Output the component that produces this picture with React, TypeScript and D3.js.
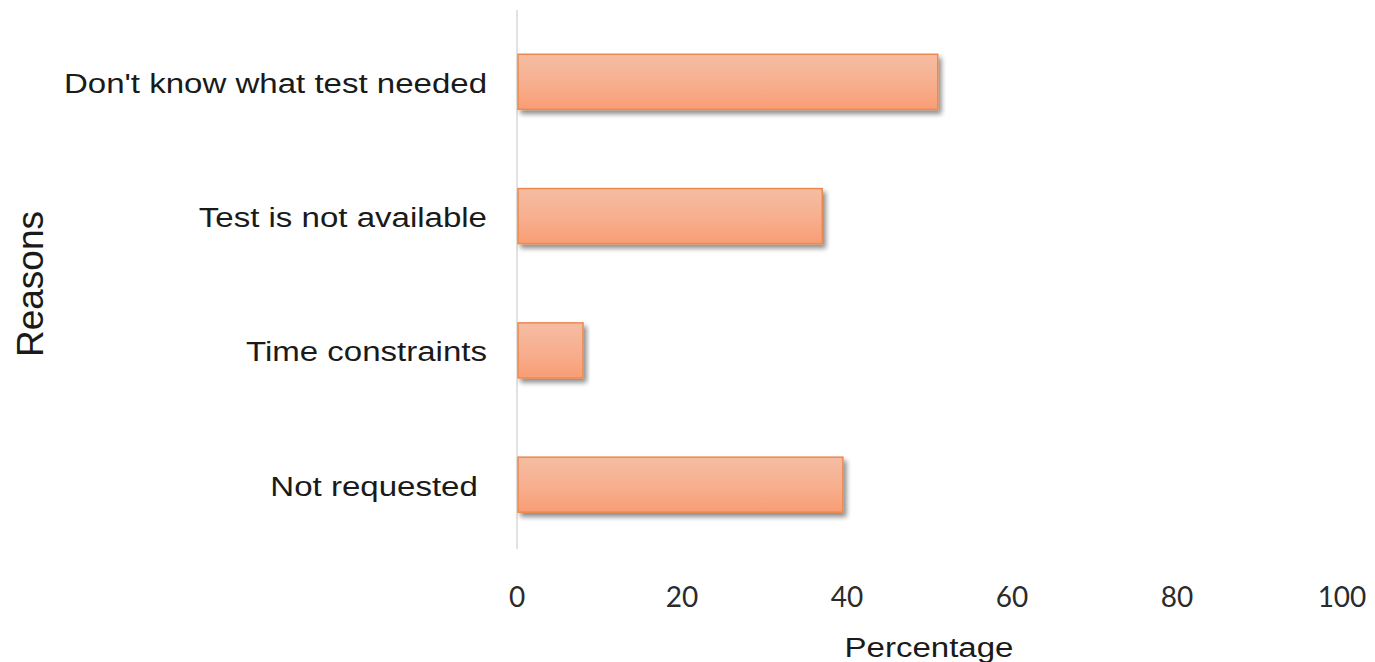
import React from "react";
import * as d3 from "d3";

const categories = [
  "Don't know what test needed",
  "Test is not available",
  "Time constraints",
  "Not requested ",
];
const percentages = [51, 37, 8, 39.5];
const xTicks = [0, 20, 40, 60, 80, 100];

const W = 1375;
const H = 662;
const margin = { left: 517, right: 33, top: 14, bottom: 109.5 };
const STRETCH = 1.18;
const labelFont = "'Liberation Sans', Arial, sans-serif";

export default function App() {
  const x = d3
    .scaleLinear()
    .domain([0, 100])
    .range([margin.left, W - margin.right]);
  const y = d3
    .scaleBand<string>()
    .domain(categories)
    .range([margin.top, H - margin.bottom])
    .paddingInner(0.59)
    .paddingOuter(0.3);

  const labelRight = 487;

  return (
    <svg
      width={W}
      height={H}
      style={{ position: "absolute", left: 0, top: 0, background: "#fff" }}
    >
      <defs>
        <linearGradient id="barFill" x1="0" y1="0" x2="0" y2="1">
          <stop offset="0%" stopColor="#f5bda3" />
          <stop offset="55%" stopColor="#f7ae8d" />
          <stop offset="100%" stopColor="#f99d74" />
        </linearGradient>
        <filter id="barShadow" x="-5%" y="-20%" width="115%" height="160%">
          <feGaussianBlur in="SourceAlpha" stdDeviation="2.5" />
          <feOffset dx="3" dy="4" result="blur" />
          <feComponentTransfer>
            <feFuncA type="linear" slope="0.45" />
          </feComponentTransfer>
          <feMerge>
            <feMergeNode />
            <feMergeNode in="SourceGraphic" />
          </feMerge>
        </filter>
      </defs>

      {/* vertical axis line */}
      <line
        x1={x(0)}
        x2={x(0)}
        y1={10}
        y2={549}
        stroke="#d9d9d9"
        strokeWidth={1.5}
      />

      {/* bars */}
      {categories.map((c, i) => (
        <rect
          key={c}
          x={x(0) + 1}
          y={y(c)}
          width={x(percentages[i]) - x(0) - 1}
          height={y.bandwidth()}
          fill="url(#barFill)"
          stroke="#eb8a4f"
          strokeWidth={1.5}
          filter="url(#barShadow)"
        />
      ))}

      {/* category labels */}
      {categories.map((c) => (
        <text
          key={c}
          transform={`translate(${labelRight},${
            (y(c) as number) + y.bandwidth() / 2 + 11
          }) scale(${STRETCH},1)`}
          textAnchor="end"
          fontFamily={labelFont}
          fontSize={28}
          fill="#1a1a1a"
          style={{ whiteSpace: "pre" }}
        >
          {c}
        </text>
      ))}

      {/* x tick labels */}
      {xTicks.map((t) => (
        <text
          key={t}
          x={x(t)}
          y={597}
          dy="0.36em"
          textAnchor="middle"
          fontFamily="Lato, 'Open Sans', sans-serif"
          fontSize={28}
          fill="#2b2b2b"
        >
          {t}
        </text>
      ))}

      {/* axis titles */}
      <text
        transform={`translate(929,657) scale(${STRETCH},1)`}
        textAnchor="middle"
        fontFamily={labelFont}
        fontSize={28}
        fill="#1a1a1a"
      >
        Percentage
      </text>
      <text
        transform={`translate(43,284) rotate(-90)`}
        textAnchor="middle"
        fontFamily={labelFont}
        fontSize={37}
        fill="#1a1a1a"
      >
        Reasons
      </text>
    </svg>
  );
}
